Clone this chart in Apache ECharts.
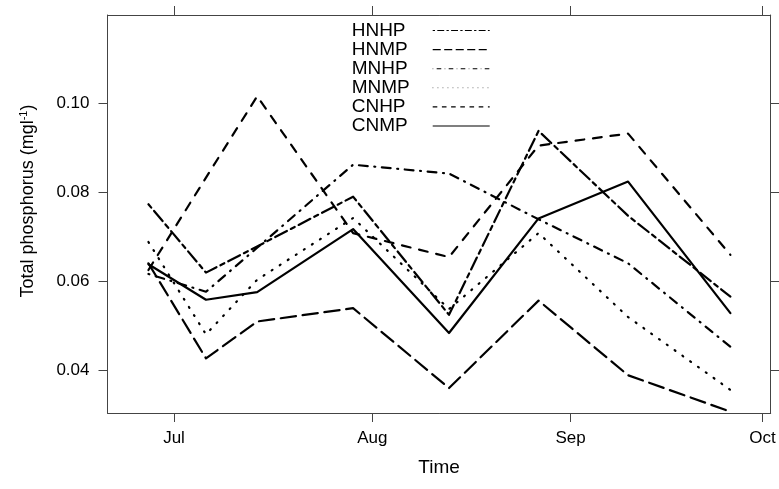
<!DOCTYPE html>
<html>
<head>
<meta charset="utf-8">
<title>Total phosphorus</title>
<script src="https://cdn.jsdelivr.net/npm/echarts@6/dist/echarts.min.js"></script>
<style>
  html, body { margin: 0; padding: 0; background: #fff; }
  #chart { width: 779px; height: 489px; }
</style>
</head>
<body>
<div id="chart"></div>
<script>
// Sampling dates and total phosphorus (mg/l) per treatment
const sampleDates = ['2009-06-27', '2009-07-06', '2009-07-14', '2009-07-29',
                     '2009-08-13', '2009-08-27', '2009-09-10', '2009-09-26'];
const HNHP = [0.0773, 0.0619, 0.0678, 0.0790, 0.0524, 0.0938, 0.0747, 0.0565];
const HNMP = [0.0640, 0.0426, 0.0509, 0.0539, 0.0359, 0.0556, 0.0388, 0.0306];
const MNHP = [0.0616, 0.0576, 0.0675, 0.0862, 0.0842, 0.0739, 0.0640, 0.0452];
const MNMP = [0.0688, 0.0480, 0.0603, 0.0742, 0.0537, 0.0708, 0.0519, 0.0355];
const CNHP = [0.0625, 0.0833, 0.1016, 0.0708, 0.0654, 0.0905, 0.0932, 0.0659];
const CNMP = [0.0638, 0.0558, 0.0575, 0.0717, 0.0483, 0.0741, 0.0824, 0.0528];
const seriesNames = ['HNHP', 'HNMP', 'MNHP', 'MNMP', 'CNHP', 'CNMP'];
const seriesValues = [HNHP, HNMP, MNHP, MNMP, CNHP, CNMP];

// Axis ticks
const monthTickDates = ['2009-07-01', '2009-08-01', '2009-09-01', '2009-10-01'];
const monthTickLabels = ['Jul', 'Aug', 'Sep', 'Oct'];
const yTicks = [0.04, 0.06, 0.08, 0.10];

// Dates are placed on a day scale counted from 1 July
const DAY = 86400000;
const origin = Date.UTC(2009, 6, 1);
function dayOf(s) {
  const p = s.split('-').map(Number);
  return (Date.UTC(p[0], p[1] - 1, p[2]) - origin) / DAY;
}
const monthTickDays = monthTickDates.map(dayOf);

// R-style line types (scaled to the stroke width)
const LW = 2.2;
function dash(units, w) { return units.map(u => u * w); }
const lineTypes = {
  HNHP: [2, 2, 6, 2],     // twodash
  HNMP: [7, 3],           // longdash
  MNHP: [0.45, 3, 4, 3],  // dotdash
  MNMP: [0.45, 3.9],      // dotted
  CNHP: [4, 4],           // dashed
  CNMP: null              // solid
};

const FONT = "'Liberation Sans', Arial, Helvetica, sans-serif";
const AXIS_COLOR = '#444';

const series = seriesNames.map((name, i) => ({
  name: name,
  type: 'line',
  symbol: 'none',
  silent: true,
  xAxisIndex: 0,
  yAxisIndex: 0,
  data: sampleDates.map((d, j) => [dayOf(d), seriesValues[i][j]]),
  lineStyle: {
    color: '#000',
    width: LW,
    cap: 'round',
    join: 'round',
    type: lineTypes[name] ? dash(lineTypes[name], LW) : 'solid'
  },
  itemStyle: { color: '#000' }
}));

const legendData = seriesNames.map(name => ({
  name: name,
  itemStyle: { opacity: 0 },
  lineStyle: {
    color: '#000',
    width: 1.1,
    cap: 'butt',
    type: lineTypes[name] ? dash(lineTypes[name], 1.15) : 'solid'
  }
}));

const xMin = -10.4, xMax = 93.3;
const yMin = 0.0303, yMax = 0.1199;

const chart = echarts.init(document.getElementById('chart'), null, { renderer: 'canvas' });
chart.setOption({
  animation: false,
  backgroundColor: '#fff',
  grid: { left: 107.5, right: 8.3, top: 15, bottom: 76, containLabel: false },
  legend: {
    orient: 'vertical',
    left: 351.7,
    top: 21,
    padding: 0,
    itemGap: 0.1,
    itemWidth: 57,
    itemHeight: 2,
    align: 'right',
    selectedMode: false,
    formatter: name => '{n|' + name + '}',
    textStyle: {
      fontFamily: FONT, fontSize: 19, color: '#000', lineHeight: 19,
      rich: { n: { fontFamily: FONT, fontSize: 19, color: '#000', width: 76, align: 'left', lineHeight: 19 } }
    },
    data: legendData
  },
  xAxis: [{
    type: 'value',
    position: 'bottom',
    min: xMin, max: xMax,
    name: 'Time',
    nameLocation: 'middle',
    nameGap: 45,
    nameTextStyle: { fontFamily: FONT, fontSize: 19, color: '#000' },
    axisLine: { show: true, onZero: false, lineStyle: { color: AXIS_COLOR, width: 1 } },
    axisTick: { show: true, length: 9, customValues: monthTickDays, lineStyle: { color: AXIS_COLOR } },
    axisLabel: {
      show: true, margin: 17, customValues: monthTickDays,
      fontFamily: FONT, fontSize: 17, color: '#000',
      formatter: v => monthTickLabels[monthTickDays.indexOf(v)]
    },
    splitLine: { show: false }
  }, {
    type: 'value',
    position: 'top',
    min: xMin, max: xMax,
    axisLine: { show: true, onZero: false, lineStyle: { color: AXIS_COLOR, width: 1 } },
    axisTick: { show: true, length: 9, customValues: monthTickDays, lineStyle: { color: AXIS_COLOR } },
    axisLabel: { show: false },
    splitLine: { show: false }
  }],
  yAxis: [{
    type: 'value',
    position: 'left',
    min: yMin, max: yMax,
    name: 'Total phosphorus (mgl{sup|-1})',
    nameLocation: 'middle',
    nameGap: 70,
    nameTextStyle: {
      fontFamily: FONT, fontSize: 18, color: '#000',
      padding: [0, 0, 0, 26],
      rich: { sup: { fontFamily: FONT, fontSize: 11, color: '#000', verticalAlign: 'top', padding: [0, 0, 8, 0] } }
    },
    axisLine: { show: true, onZero: false, lineStyle: { color: AXIS_COLOR, width: 1 } },
    axisTick: { show: true, length: 9, customValues: yTicks, lineStyle: { color: AXIS_COLOR } },
    axisLabel: {
      show: true, margin: 18, customValues: yTicks,
      fontFamily: FONT, fontSize: 17, color: '#000',
      formatter: v => v.toFixed(2)
    },
    splitLine: { show: false }
  }, {
    type: 'value',
    position: 'right',
    min: yMin, max: yMax,
    axisLine: { show: true, onZero: false, lineStyle: { color: AXIS_COLOR, width: 1 } },
    axisTick: { show: true, length: 9, customValues: yTicks, lineStyle: { color: AXIS_COLOR } },
    axisLabel: { show: false },
    splitLine: { show: false }
  }],
  series: series
});
</script>
</body>
</html>
